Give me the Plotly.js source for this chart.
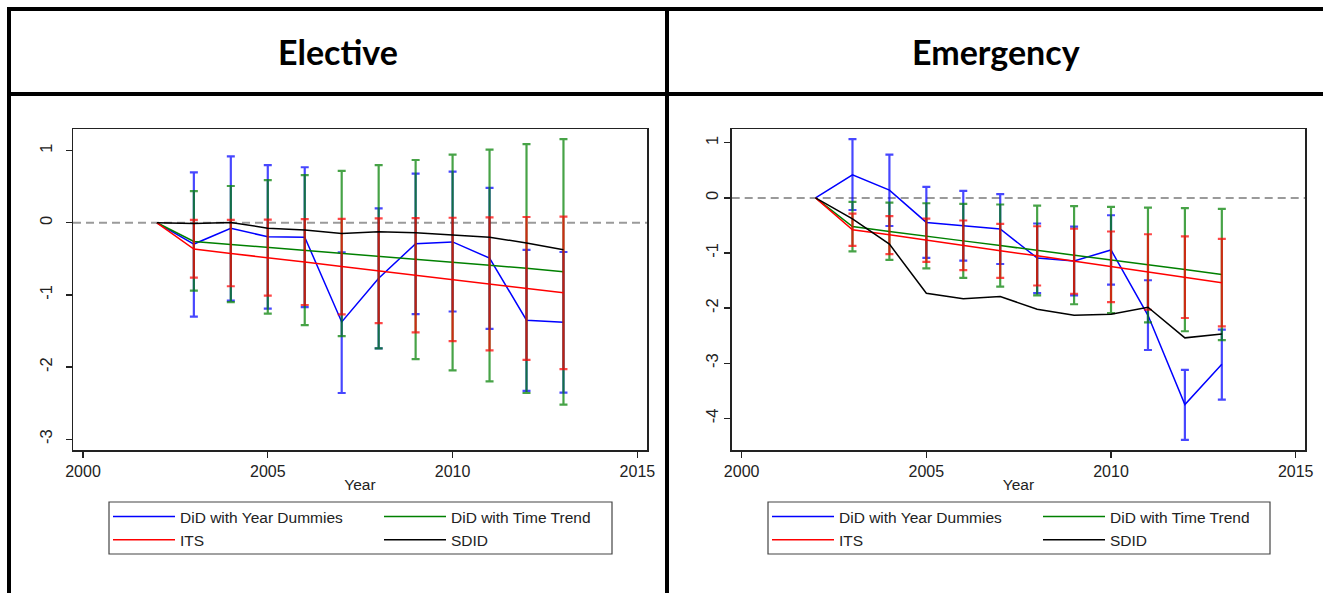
<!DOCTYPE html>
<html>
<head>
<meta charset="utf-8">
<script src="https://cdn.plot.ly/plotly-3.0.1.min.js"></script>
<style>
  html, body { margin: 0; padding: 0; background: #fff; }
  #chart { width: 1323px; height: 593px; }
</style>
</head>
<body>
<div id="chart"></div>
<script>
// ---------------- data ----------------
const years = [2002, 2003, 2004, 2005, 2006, 2007, 2008, 2009, 2010, 2011, 2012, 2013];
const seriesNames = ["DiD with Year Dummies", "DiD with Time Trend", "ITS", "SDID"];
const panelTitles = ["Elective", "Emergency"];
const xTicks = [2000, 2005, 2010, 2015];
const yTicksElective = [-3, -2, -1, 0, 1];
const yTicksEmergency = [-4, -3, -2, -1, 0, 1];

// Elective
const elBlue   = [0, -0.295, -0.075, -0.195, -0.20, -1.375, -0.77, -0.29, -0.265, -0.49, -1.35, -1.38];
const elBlueLo = [null, -1.30, -1.08, -1.19, -1.17, -2.36, -1.74, -1.265, -1.23, -1.47, -2.33, -2.355];
const elBlueHi = [null, 0.70, 0.92, 0.80, 0.77, -0.41, 0.20, 0.68, 0.71, 0.485, -0.375, -0.405];
const elGreen   = [0, -0.26, -0.30, -0.34, -0.38, -0.42, -0.47, -0.51, -0.55, -0.59, -0.63, -0.68];
const elGreenLo = [null, -0.94, -1.10, -1.26, -1.42, -1.57, -1.74, -1.89, -2.045, -2.20, -2.36, -2.52];
const elGreenHi = [null, 0.44, 0.51, 0.59, 0.66, 0.72, 0.80, 0.87, 0.945, 1.015, 1.09, 1.16];
const elRed   = [0, -0.365, -0.425, -0.48, -0.545, -0.605, -0.665, -0.725, -0.79, -0.85, -0.91, -0.97];
const elRedLo = [null, -0.76, -0.88, -1.01, -1.14, -1.27, -1.39, -1.52, -1.64, -1.77, -1.90, -2.03];
const elRedHi = [null, 0.04, 0.04, 0.045, 0.05, 0.055, 0.06, 0.065, 0.07, 0.075, 0.08, 0.085];
const elBlack = [0, -0.01, 0.005, -0.075, -0.10, -0.15, -0.125, -0.14, -0.17, -0.20, -0.28, -0.375];

// Emergency
const emBlue   = [0, 0.42, 0.14, -0.445, -0.505, -0.565, -1.09, -1.145, -0.945, -2.13, -3.75, -3.02];
const emBlueLo = [null, -0.22, -0.51, -1.09, -1.14, -1.20, -1.73, -1.77, -1.575, -2.76, -4.39, -3.66];
const emBlueHi = [null, 1.065, 0.785, 0.20, 0.127, 0.067, -0.465, -0.52, -0.315, -1.495, -3.12, -2.39];
const emGreen   = [0, -0.52, -0.61, -0.69, -0.78, -0.865, -0.955, -1.04, -1.127, -1.215, -1.30, -1.39];
const emGreenLo = [null, -0.97, -1.125, -1.28, -1.45, -1.61, -1.77, -1.93, -2.09, -2.26, -2.42, -2.58];
const emGreenHi = [null, -0.073, -0.085, -0.097, -0.11, -0.12, -0.14, -0.15, -0.163, -0.175, -0.187, -0.20];
const emRed   = [0, -0.58, -0.67, -0.77, -0.86, -0.96, -1.05, -1.15, -1.25, -1.345, -1.44, -1.54];
const emRedLo = [null, -0.87, -1.02, -1.16, -1.31, -1.45, -1.59, -1.74, -1.89, -2.03, -2.18, -2.33];
const emRedHi = [null, -0.285, -0.33, -0.375, -0.41, -0.47, -0.515, -0.56, -0.61, -0.66, -0.70, -0.745];
const emBlack = [0, -0.38, -0.84, -1.73, -1.83, -1.79, -2.02, -2.13, -2.11, -1.985, -2.54, -2.47];

// ---------------- styling ----------------
const W = 1323, H = 593;
const px = v => v / W;
const py = v => 1 - v / H;
const FONT = "Liberation Sans, Arial, Helvetica, sans-serif";
const lineCol = { blue: "#0000ff", green: "#008000", red: "#ff0000", black: "#000000" };
const barCol  = { blue: "rgba(0,0,255,0.72)", green: "rgba(0,128,0,0.72)", red: "rgba(255,0,0,0.72)" };

function errs(v, lo, hi) {
  return {
    type: "data", symmetric: false, visible: true,
    array: v.map((d, i) => hi[i] == null ? NaN : hi[i] - d),
    arrayminus: v.map((d, i) => lo[i] == null ? NaN : d - lo[i]),
    thickness: 2.2, width: 4
  };
}

function panel(xa, ya, leg, gpre, blue, bLo, bHi, green, gLo, gHi, red, rLo, rHi, black) {
  const base = { x: years, mode: "lines", xaxis: xa, yaxis: ya, legend: leg, hoverinfo: "skip" };
  return [
    Object.assign({}, base, { y: blue, name: seriesNames[0], legendgroup: gpre + "1",
      line: { color: lineCol.blue, width: 1.5 }, error_y: Object.assign(errs(blue, bLo, bHi), { color: barCol.blue }) }),
    Object.assign({}, base, { y: green, name: seriesNames[1], legendgroup: gpre + "2",
      line: { color: lineCol.green, width: 1.5 }, error_y: Object.assign(errs(green, gLo, gHi), { color: barCol.green }) }),
    Object.assign({}, base, { y: red, name: seriesNames[2], legendgroup: gpre + "1",
      line: { color: lineCol.red, width: 1.5 }, error_y: Object.assign(errs(red, rLo, rHi), { color: barCol.red }) }),
    Object.assign({}, base, { y: black, name: seriesNames[3], legendgroup: gpre + "2",
      line: { color: lineCol.black, width: 1.5 } })
  ];
}

const traces = [].concat(
  panel("x", "y", "legend", "L", elBlue, elBlueLo, elBlueHi, elGreen, elGreenLo, elGreenHi, elRed, elRedLo, elRedHi, elBlack),
  panel("x2", "y2", "legend2", "R", emBlue, emBlueLo, emBlueHi, emGreen, emGreenLo, emGreenHi, emRed, emRedLo, emRedHi, emBlack)
);

function xAxis(d0, d1, anchor) {
  return {
    domain: [px(d0), px(d1)], anchor: anchor, range: [1999.73, 2015.26],
    tickmode: "array", tickvals: xTicks, ticktext: xTicks.map(String),
    ticks: "outside", ticklen: 6, tickwidth: 1.3, tickcolor: "#222",
    showline: true, mirror: true, linecolor: "#222", linewidth: 1.5,
    showgrid: false, zeroline: false,
    tickfont: { family: FONT, size: 16, color: "#222" },
    title: { text: "Year", font: { family: FONT, size: 15.5, color: "#222" }, standoff: 0 }
  };
}
function yAxis(range, ticks, anchor, standoff) {
  return {
    domain: [py(450), py(129)], anchor: anchor, range: range,
    tickmode: "array", tickvals: ticks, ticktext: ticks.map(String),
    ticks: "outside", ticklen: 6, tickwidth: 1.3, tickcolor: "#222", tickangle: -90,
    ticklabelstandoff: standoff,
    showline: true, mirror: true, linecolor: "#222", linewidth: 1.5,
    showgrid: false, zeroline: false,
    tickfont: { family: FONT, size: 16.5, color: "#222" }
  };
}

function legendCfg(xLeft) {
  return {
    x: px(xLeft), xanchor: "left", y: py(500), yanchor: "top",
    orientation: "h", traceorder: "grouped", itemwidth: 62,
    bgcolor: "rgba(0,0,0,0)", borderwidth: 0,
    font: { family: FONT, size: 15.5, color: "#222" },
    entrywidth: 194
  };
}

const border = (x0, y0, x1, y1) => ({ type: "line", xref: "paper", yref: "paper",
  x0: px(x0), y0: py(y0), x1: px(x1), y1: py(y1), line: { color: "#000", width: 4 } });
const box = (x0, y0, x1, y1) => ({ type: "rect", xref: "paper", yref: "paper",
  x0: px(x0), y0: py(y0), x1: px(x1), y1: py(y1), line: { color: "#444", width: 1.2 }, fillcolor: "rgba(0,0,0,0)" });
const zeroLine = (xr, yr) => ({ type: "line", xref: xr + " domain", yref: yr, x0: 0, x1: 1, y0: 0, y1: 0,
  layer: "below", line: { color: "#9a9a9a", width: 2, dash: "8px,5px" } });

const layout = {
  width: W, height: H, margin: { l: 0, r: 0, t: 0, b: 0 },
  paper_bgcolor: "#fff", plot_bgcolor: "#fff",
  showlegend: true,
  xaxis: xAxis(73, 647, "y"),
  yaxis: yAxis([-3.15, 1.30], yTicksElective, "x", 7),
  xaxis2: xAxis(731.7, 1305.3, "y2"),
  yaxis2: yAxis([-4.575, 1.25], yTicksEmergency, "x2", 0),
  legend: legendCfg(108),
  legend2: legendCfg(767),
  shapes: [
    border(7, 9, 1323, 9), border(7, 94, 1323, 94),
    border(9, 7, 9, 593), border(667, 7, 667, 593),
    box(109, 502, 612, 554), box(768, 502, 1270, 554),
    zeroLine("x", "y"), zeroLine("x2", "y2")
  ],
  annotations: [
    { text: "<b>" + panelTitles[0] + "</b>", xref: "paper", yref: "paper", x: px(338), y: py(51),
      xanchor: "center", yanchor: "middle", showarrow: false,
      font: { family: "Lato, Carlito, Calibri, sans-serif", size: 34, color: "#000" } },
    { text: "<b>" + panelTitles[1] + "</b>", xref: "paper", yref: "paper", x: px(996), y: py(51),
      xanchor: "center", yanchor: "middle", showarrow: false,
      font: { family: "Lato, Carlito, Calibri, sans-serif", size: 34, color: "#000" } }
  ]
};

Plotly.newPlot("chart", traces, layout, { displayModeBar: false, staticPlot: true });
</script>
</body>
</html>
